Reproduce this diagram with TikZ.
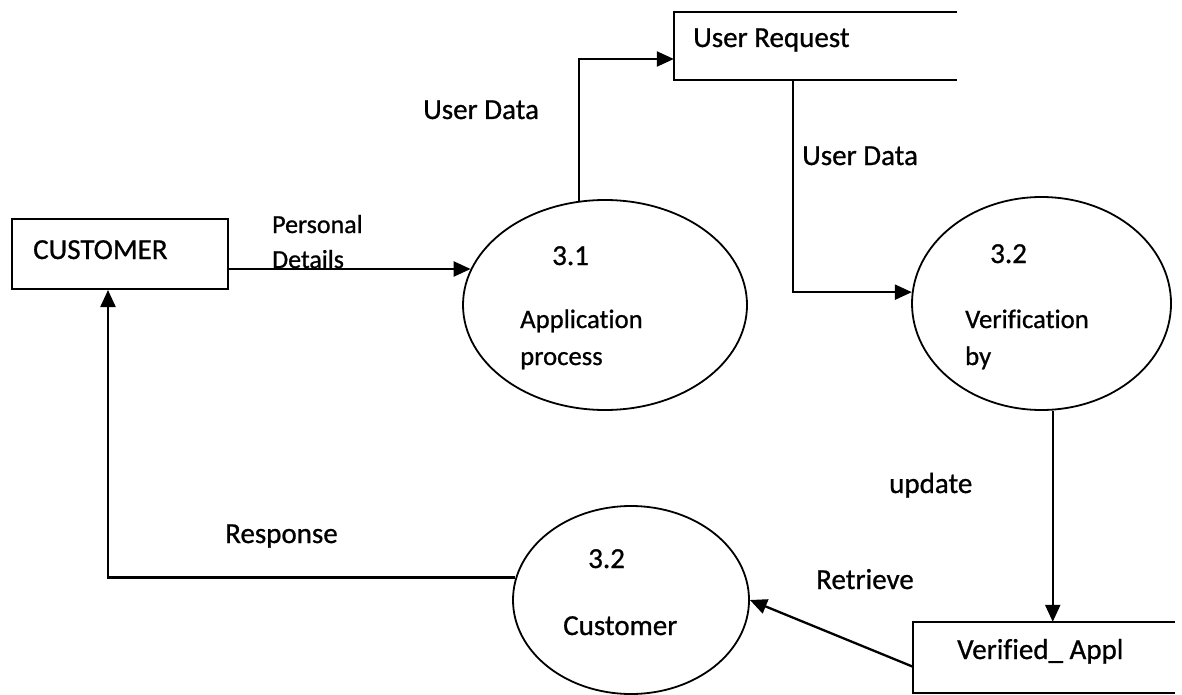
\documentclass[tikz,border=0pt]{standalone}
\usepackage{fontspec}
\setmainfont{Carlito}[Ligatures={NoCommon},FakeBold=0.8]
\usetikzlibrary{arrows.meta,shapes.geometric,calc}
\begin{document}
\begin{tikzpicture}[x=1pt,y=-1pt,
  box/.style={draw,line width=2pt,rectangle,inner sep=0},
  store/.style={rectangle,inner sep=0},
  storeline/.style={line width=2pt},
  proc/.style={draw,ellipse,line width=1.8pt,inner sep=0},
  arr/.style={line width=2.3pt,-{Triangle[length=17pt,width=15pt]}},
  lbl/.style={anchor=base west,inner sep=0,font=\fontsize{29}{34}\selectfont},
  slbl/.style={anchor=base west,inner sep=0,font=\fontsize{26}{31}\selectfont},
  mlbl/.style={anchor=base west,inner sep=0,font=\fontsize{26.7}{31}\selectfont}]
\useasboundingbox (0,0) rectangle (1182,695);

% external entity
\node[box,minimum width=216pt,minimum height=70pt] (customer) at (120,254) {};
% data stores
\node[store,minimum width=283pt,minimum height=68pt] (ureq) at (815.5,46) {};
\draw[storeline] (ureq.north east) -- (ureq.north west) -- (ureq.south west) -- (ureq.south east);
\node[store,minimum width=262pt,minimum height=71pt] (ver) at (1044,657.5) {};
\draw[storeline] (ver.north east) -- (ver.north west) -- (ver.south west) -- (ver.south east);
% processes
\node[proc,minimum width=284pt,minimum height=210pt] (p31) at (605,305) {};
\node[proc,minimum width=259pt,minimum height=213pt] (p32) at (1041.5,303.5) {};
\node[proc,minimum width=236pt,minimum height=188pt] (p33) at (631,600) {};

% texts
\node[lbl] (tcust) at (33,259) {CUSTOMER};
\node[slbl] (tpers) at (272,233) {Personal};
\node[slbl] (tdet) at (272,268) {Details};
\node[lbl] (t31) at (552,265) {3.1};
\node[mlbl] (tapp) at (520,328) {Application};
\node[mlbl] (tproc) at (520,365) {process};
\node[lbl] (tud1) at (423,119) {User Data};
\node[lbl] (tur) at (693,47) {User Request};
\node[lbl] (tud2) at (802,165) {User Data};
\node[lbl] (t32) at (990,263) {3.2};
\node[mlbl] (tver) at (965,328) {Verification};
\node[mlbl] (tby) at (965,365) {by};
\node[lbl] (tupd) at (889,493) {update};
\node[lbl] (tret) at (816,589) {Retrieve};
\node[lbl] (tva) at (957,659) {Verified\_ Appl};
\node[lbl] (tresp) at (225,543) {Response};
\node[lbl] (t33) at (588,568) {3.2};
\node[lbl] (tcus2) at (563,635) {Customer};

% connectors
\draw[arr] (customer.east |- p31.165) -- (p31.165);
\draw[arr] (p31.104) |- ([yshift=-13pt]ureq.west);
\draw[arr] ([xshift=-22.5pt]ureq.south) |- (p32.175);
\draw[arr] (p32.-84) -- (p32.-84 |- ver.north);
\draw[arr] (ver.184) -- (p33.east);
\draw[arr] (p33.169) -| ([xshift=-12pt]customer.south);
\end{tikzpicture}
\end{document}
